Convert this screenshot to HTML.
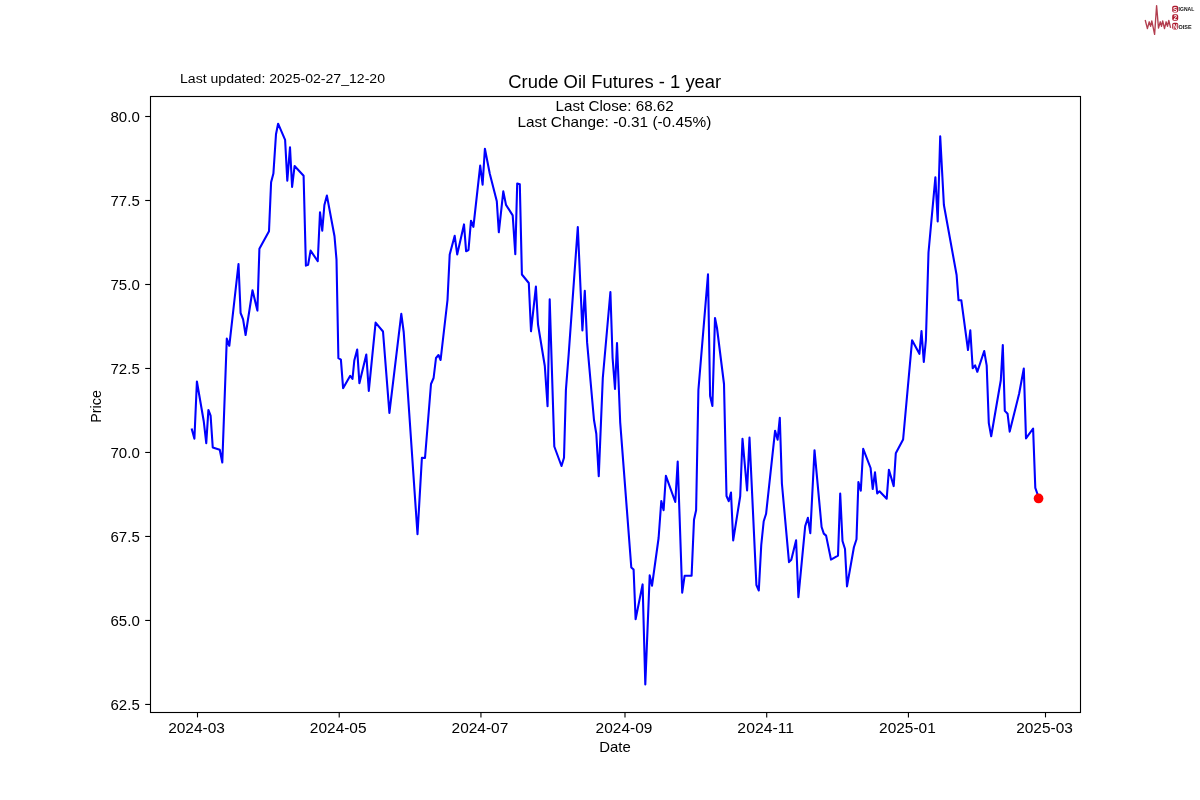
<!DOCTYPE html>
<html><head><meta charset="utf-8"><style>
html,body{margin:0;padding:0;background:#fff;}
svg{display:block;will-change:transform;}
text{font-family:"Liberation Sans",sans-serif;fill:#000;}
</style></head><body>
<svg width="1200" height="800" viewBox="0 0 1200 800">
<rect width="1200" height="800" fill="#fff"/>
<g stroke="#000" stroke-width="1.11" fill="none">
<rect x="150.5" y="96.5" width="930" height="616"/>
<line x1="145.2" y1="704.45" x2="150.5" y2="704.45"/><line x1="145.2" y1="620.46" x2="150.5" y2="620.46"/><line x1="145.2" y1="536.46" x2="150.5" y2="536.46"/><line x1="145.2" y1="452.47" x2="150.5" y2="452.47"/><line x1="145.2" y1="368.48" x2="150.5" y2="368.48"/><line x1="145.2" y1="284.49" x2="150.5" y2="284.49"/><line x1="145.2" y1="200.49" x2="150.5" y2="200.49"/><line x1="145.2" y1="116.5" x2="150.5" y2="116.5"/>
<line x1="197.50" y1="712" x2="197.50" y2="717.4"/><line x1="339.22" y1="712" x2="339.22" y2="717.4"/><line x1="480.94" y1="712" x2="480.94" y2="717.4"/><line x1="624.99" y1="712" x2="624.99" y2="717.4"/><line x1="766.71" y1="712" x2="766.71" y2="717.4"/><line x1="908.43" y1="712" x2="908.43" y2="717.4"/><line x1="1045.50" y1="712" x2="1045.50" y2="717.4"/>
</g>
<g font-size="13.9">
<text x="139.8" y="710" text-anchor="end" textLength="29.3" lengthAdjust="spacingAndGlyphs">62.5</text><text x="139.8" y="626" text-anchor="end" textLength="29.3" lengthAdjust="spacingAndGlyphs">65.0</text><text x="139.8" y="542" text-anchor="end" textLength="29.3" lengthAdjust="spacingAndGlyphs">67.5</text><text x="139.8" y="458" text-anchor="end" textLength="29.3" lengthAdjust="spacingAndGlyphs">70.0</text><text x="139.8" y="374" text-anchor="end" textLength="29.3" lengthAdjust="spacingAndGlyphs">72.5</text><text x="139.8" y="290" text-anchor="end" textLength="29.3" lengthAdjust="spacingAndGlyphs">75.0</text><text x="139.8" y="206" text-anchor="end" textLength="29.3" lengthAdjust="spacingAndGlyphs">77.5</text><text x="139.8" y="122" text-anchor="end" textLength="29.3" lengthAdjust="spacingAndGlyphs">80.0</text>
<text x="196.50" y="733.3" text-anchor="middle" textLength="56.7" lengthAdjust="spacingAndGlyphs">2024-03</text><text x="338.22" y="733.3" text-anchor="middle" textLength="56.7" lengthAdjust="spacingAndGlyphs">2024-05</text><text x="479.94" y="733.3" text-anchor="middle" textLength="56.7" lengthAdjust="spacingAndGlyphs">2024-07</text><text x="623.99" y="733.3" text-anchor="middle" textLength="56.7" lengthAdjust="spacingAndGlyphs">2024-09</text><text x="765.71" y="733.3" text-anchor="middle" textLength="56.7" lengthAdjust="spacingAndGlyphs">2024-11</text><text x="907.43" y="733.3" text-anchor="middle" textLength="56.7" lengthAdjust="spacingAndGlyphs">2025-01</text><text x="1044.50" y="733.3" text-anchor="middle" textLength="56.7" lengthAdjust="spacingAndGlyphs">2025-03</text>
</g>
<text x="615" y="752" font-size="13.9" text-anchor="middle" textLength="31.5" lengthAdjust="spacingAndGlyphs">Date</text>
<text transform="translate(101.2,406.4) rotate(-90)" font-size="13.9" text-anchor="middle" textLength="32.6" lengthAdjust="spacingAndGlyphs">Price</text>
<text x="614.75" y="87.6" font-size="17.6" text-anchor="middle" textLength="213" lengthAdjust="spacingAndGlyphs">Crude Oil Futures - 1 year</text>
<text x="614.6" y="111.2" font-size="13.9" text-anchor="middle" textLength="118.2" lengthAdjust="spacingAndGlyphs">Last Close: 68.62</text>
<text x="614.4" y="127.2" font-size="13.9" text-anchor="middle" textLength="193.7" lengthAdjust="spacingAndGlyphs">Last Change: -0.31 (-0.45%)</text>
<text x="180" y="83" font-size="12.5" textLength="205" lengthAdjust="spacingAndGlyphs">Last updated: 2025-02-27_12-20</text>
<polyline fill="none" stroke="#0000ff" stroke-width="2.08" stroke-linejoin="round" stroke-linecap="square" points="191.9,429.4 194.4,438.75 196.9,381.5 203.75,421.25 206.25,443.1 208.4,410 210.6,415.6 212.75,447.5 219.75,449.8 222.3,462.5 226.8,338.6 229.3,345.8 238.5,264 240.6,313 243.1,319.4 245.6,335 252.5,290.25 257.4,310.6 259.4,248.7 269,231.3 271.1,182.3 273.4,173.6 276,134.2 278.1,123.7 285.1,139.8 287.3,180.6 290,147.3 292.1,187 294.6,166 303.6,175.8 305.9,265.6 308.1,264.75 310.6,250.6 317.75,261.25 320,212.25 322.25,230.6 324.4,205 326.9,195.6 334.5,236.25 336.5,259.6 338.4,358.2 340.9,359.6 343.1,388.2 350.2,375.8 352.5,378.8 354.3,360.5 357.2,349.6 359.4,383.3 366.3,354.6 368.8,390.9 375.6,322.6 383,331.5 389.4,412.9 401.3,313.8 403.7,332 417.5,534.3 421.9,457.7 425.0,458 431,384 433.6,378 436,358 438.5,355 440.6,360 447.5,300 449.7,254.6 454.7,235.8 457.2,254.4 464,224.4 466.1,251.2 468.5,250 471,220.7 473.4,226.9 480.2,165.6 482.6,184.6 484.9,148.8 489.8,173.8 496.8,201.3 498.8,232.3 503.3,191.4 506,204.9 512.7,215.4 515.3,254.1 517.2,183.5 519.8,184.3 521.9,274.5 528.8,283 531,331.3 535.9,286.6 538,324.5 544.8,366 547.55,406.3 549.7,299.4 554.3,446.5 561.5,466 564,457.8 565.9,390.2 568.7,354 577.8,227 582.4,330.5 584.8,290.8 587.1,342.4 594.0,420 596.3,433.75 598.75,476.25 602.8,378 610.4,292 612.6,358 615,389 617,343 620.2,422.3 631.3,567.5 633.6,569.6 635.6,619.3 642.6,584.4 645.3,684.4 649.7,575.4 652.0,585.8 658.6,538 661.3,501 663.6,510.3 665.9,475.8 675.3,502 677.7,461.6 682.2,592.7 684.6,575.8 691.6,575.8 694,519.7 696.1,510.3 698.4,390 708,274.4 710.1,396 712.4,406 715,318 717,328 724,384 726.5,496 728.7,501.2 731,492.6 733.2,540.4 740.2,496.25 742.5,438.75 747.1,490.5 749.5,437.5 756.4,585 758.8,590.5 761.25,545 763.7,521.25 766.1,513.75 775.1,430.7 777.6,439.8 779.8,417.8 781.9,483.5 789,562.1 791.3,559.8 796.1,540.3 798.4,597.2 805.2,526.1 807.9,517.8 810.3,533.2 814.5,450.2 821.6,527 823.8,533.6 826.1,535.6 831,559.6 838,555.6 840.2,493.6 842.5,541 845,549 847,586.4 853.9,547.3 856.5,539.3 858.4,482 860.8,490.8 863.2,448.8 870.6,468 872.7,489 875,472.4 877.2,493.4 879.5,491.3 886.7,498.7 888.9,469.8 893.7,486.1 895.8,453.2 903.1,439.5 912.1,340.2 919.4,353.8 921.5,331 923.8,362 925.9,340 928.5,252.5 935.4,177.2 937.7,221.4 940.2,136.3 943.9,205 956.6,275 958.5,300.2 961.3,300.2 968,350 970.3,330.3 972.7,368.2 975.1,365.4 977.3,371.8 984.2,351 986.7,365.7 988.8,423.1 991.2,436.3 1000.8,380.3 1002.8,345 1004.8,410.9 1007.6,413.8 1009.7,431.6 1019.1,393.8 1023.8,368.5 1026,438.4 1033.1,428.5 1035.3,487.8 1037.8,495 1038.5,498.6"/>
<g>
<polyline fill="none" stroke="#a51c30" stroke-width="1.35" stroke-linejoin="round" stroke-opacity="0.85" points="1145.2,20 1147.4,28.6 1149.2,21.8 1150.6,26.3 1151.8,20.9 1154.6,34.4 1156.6,5.6 1158.5,28.1 1160.3,21.8 1161.5,26.3 1162.7,20.9 1164.5,28.6 1166.1,21.8 1167.5,26.3 1168.8,20.5 1170.6,27.8"/>
<rect x="1172.2" y="5.8" width="6" height="6.8" rx="1.8" fill="#ad1a2e"/>
<rect x="1172.2" y="14.2" width="6" height="6.6" rx="1.8" fill="#ad1a2e"/>
<rect x="1172.2" y="22.8" width="6" height="6.8" rx="1.8" fill="#ad1a2e"/>
<g font-size="6.4" font-weight="bold" text-anchor="middle" fill="#f3d6da" style="fill:#f3d6da">
<text x="1175.2" y="11.8" style="fill:#fff">S</text>
<text x="1175.2" y="20.1" style="fill:#fff">2</text>
<text x="1175.2" y="28.8" style="fill:#fff">N</text>
</g>
<text x="1178.6" y="11.1" font-size="5.6" font-weight="bold" textLength="15.6" lengthAdjust="spacingAndGlyphs" style="fill:#111">IGNAL</text>
<text x="1178.6" y="28.5" font-size="5.6" font-weight="bold" textLength="13" lengthAdjust="spacingAndGlyphs" style="fill:#111">OISE</text>
</g>
<circle cx="1038.55" cy="498.45" r="4.86" fill="#ff0000"/>
</svg>
</body></html>
